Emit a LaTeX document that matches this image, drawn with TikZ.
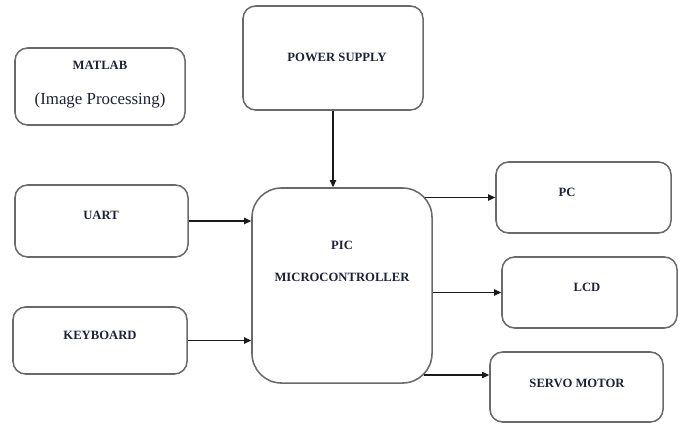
\documentclass[tikz,border=0pt]{standalone}
\usepackage{fontspec}
\setmainfont{Liberation Serif}
\usepackage{tikz}
\usetikzlibrary{calc,arrows.meta}
\definecolor{edge}{HTML}{6A6A6A}
\definecolor{ink}{HTML}{1E2238}
\definecolor{wire}{HTML}{1A1A1A}
\tikzset{
  blk/.style={draw=edge, line width=1.1pt, rounded corners=9pt, fill=white, inner sep=0pt},
  big/.style={blk, rounded corners=21pt},
  lab/.style={text=ink, font=\fontsize{9}{10}\selectfont\bfseries, inner sep=0pt},
  labr/.style={text=ink, font=\fontsize{12}{14}\selectfont, inner sep=0pt},
  arr/.style={draw=wire, line width=0.9pt, -{Triangle[length=5pt,width=4.5pt]}},
}

\begin{document}
\begin{tikzpicture}[x=0.025cm,y=-0.025cm]
  \useasboundingbox (0,0) rectangle (684,424);
  % blocks
  \node[blk, minimum width=4.25cm, minimum height=1.925cm] (matlab) at (100,86.5) {};
  \node[blk, minimum width=4.5cm, minimum height=2.6cm] (psu) at (333,58) {};
  \node[big, minimum width=4.5cm, minimum height=4.875cm] (mcu) at (342,285.5) {};
  \node[blk, minimum width=4.325cm, minimum height=1.8cm] (uart) at (101.5,221) {};
  \node[blk, minimum width=4.35cm, minimum height=1.675cm] (kbd) at (100,340.5) {};
  \node[blk, minimum width=4.375cm, minimum height=1.775cm] (pc) at (583.5,197.5) {};
  \node[blk, minimum width=4.375cm, minimum height=1.775cm] (lcd) at (589.5,292.5) {};
  \node[blk, minimum width=4.325cm, minimum height=1.75cm] (servo) at (576.5,387) {};
  % texts
  \node[lab] (matlabt) at (100,65) {MATLAB};
  \node[labr] (matlabs) at (100,100) {(Image Processing)};
  \node[lab] (psut) at (337,57) {POWER SUPPLY};
  \node[lab] (mcut) at (342,245) {PIC};
  \node[lab] (mcus) at (342,277) {MICROCONTROLLER};
  \node[lab] (uartt) at (101,215) {UART};
  \node[lab] (kbdt) at (100,335) {KEYBOARD};
  \node[lab] (pct) at (567,192) {PC};
  \node[lab] (lcdt) at (587,287) {LCD};
  \node[lab] (servot) at (577,383) {SERVO MOTOR};
  % links
  \draw[arr] (psu.south) -- (psu.south |- mcu.north);
  \draw[arr] (uart.east) -- (uart.east -| mcu.west);
  \draw[arr] (kbd.east) -- (kbd.east -| mcu.west);
  \draw[arr] ([xshift=-0.2cm]mcu.east |- pc.west) -- (pc.west);
  \draw[arr] (mcu.east |- lcd.west) -- (lcd.west);
  \coordinate (svin) at ([yshift=0.3cm]servo.west);
  \draw[arr] ([xshift=-0.225cm]mcu.east |- svin) -- (svin);
\end{tikzpicture}
\end{document}
